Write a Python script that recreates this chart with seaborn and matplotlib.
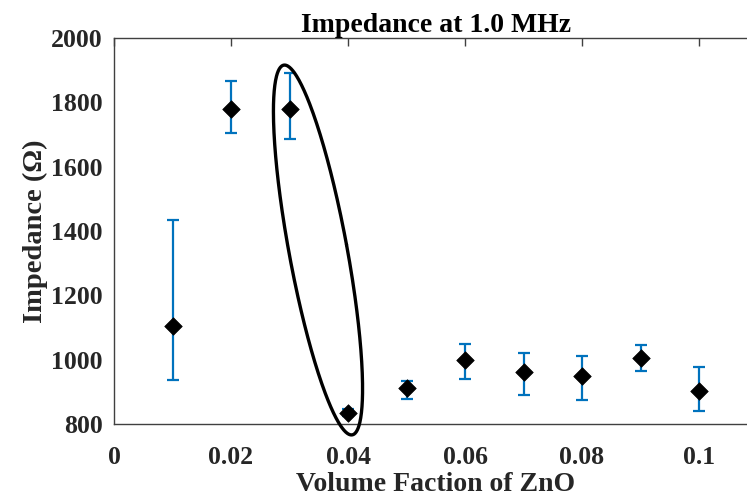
import numpy as np
import pandas as pd
import matplotlib
matplotlib.use("Agg")
import matplotlib.pyplot as plt
import seaborn as sns

# Data
volume_fraction = [0.01, 0.02, 0.03, 0.04, 0.05, 0.06, 0.07, 0.08, 0.09, 0.10]
impedance = [1105, 1779, 1779, 834, 912, 999, 962, 949, 1005, 903]
err_low = [1105 - 937, 1779 - 1705, 1779 - 1686, 834 - 824, 912 - 878, 999 - 940, 962 - 890, 949 - 875, 1005 - 965, 903 - 840]
err_high = [1434 - 1105, 1866 - 1779, 1891 - 1779, 846 - 834, 934 - 912, 1049 - 999, 1021 - 962, 1011 - 949, 1045 - 1005, 977 - 903]
x_ticks = [0, 0.02, 0.04, 0.06, 0.08, 0.1]
x_tick_labels = ["0", "0.02", "0.04", "0.06", "0.08", "0.1"]
y_ticks = [800, 1000, 1200, 1400, 1600, 1800, 2000]

df = pd.DataFrame({"x": volume_fraction, "y": impedance})

sns.set_style("white")
plt.rcParams["font.family"] = ["Liberation Serif", "DejaVu Serif"]
plt.rcParams["font.weight"] = "bold"

W, H, DPI = 747, 497, 100
fig = plt.figure(figsize=(W / DPI, H / DPI), dpi=DPI)
ax_left, ax_bottom = 114, 73
x_max = 0.11
px_per_x = 117 / 0.02
ax_w = x_max * px_per_x
ax_h = 386
ax = fig.add_axes([ax_left / W, ax_bottom / H, ax_w / W, ax_h / H])

blue = "#0072BD"
ax.errorbar(volume_fraction, impedance, yerr=[err_low, err_high], fmt="none",
            ecolor=blue, elinewidth=1.6, capsize=4, capthick=1.6, zorder=2)
sns.scatterplot(data=df, x="x", y="y", marker="D", s=80, color="black",
                edgecolor="black", linewidth=0.5, ax=ax, zorder=3)

ax.set_xlim(0, x_max)
ax.set_ylim(800, 2000)
ax.set_xticks(x_ticks)
ax.set_xticklabels(x_tick_labels)
ax.set_yticks(y_ticks)

for s in ax.spines.values():
    s.set_color("#404040")
    s.set_linewidth(1.0)
ax.tick_params(axis="both", direction="in", length=6, width=1.0, color="#404040",
               labelsize=18.5, top=True, right=True)
ax.tick_params(axis="x", pad=16)
ax.tick_params(axis="y", pad=8)
for lab in ax.get_xticklabels() + ax.get_yticklabels():
    lab.set_fontweight("bold")
    lab.set_color("#262626")

ax.set_xlabel("Volume Faction of ZnO", fontsize=20, fontweight="bold", color="#262626", labelpad=2)
ax.set_ylabel("Impedance (Ω)", fontsize=20.5, fontweight="bold", color="#262626", labelpad=2)
ax.set_title("Impedance at 1.0 MHz", fontsize=20, fontweight="bold", color="black", pad=4)

# Annotation ellipse (drawn in pixel units, converted to data units)
px_per_y = ax_h / 1200
cx_px, cy_px = 318, 250          # center in image pixels
a_px, b_px, ang = 188, 29, np.deg2rad(-10.5)
t = np.linspace(0, 2 * np.pi, 400)
ex = b_px * np.cos(t)
ey = a_px * np.sin(t)
rx = ex * np.cos(ang) - ey * np.sin(ang)
ry = ex * np.sin(ang) + ey * np.cos(ang)
xs = (cx_px - ax_left + rx) / px_per_x
ys = 2000 - (cy_px - 38 + ry) / px_per_y
ax.plot(xs, ys, color="black", lw=2.4, clip_on=False, zorder=4)

fig.savefig("out.png", dpi=DPI)
